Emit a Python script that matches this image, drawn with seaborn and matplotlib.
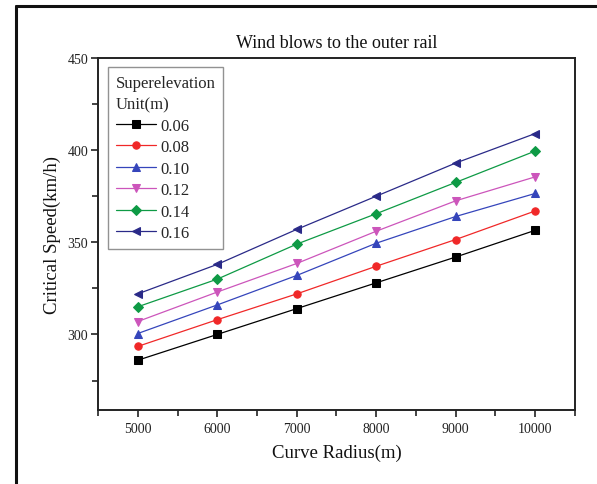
import matplotlib
matplotlib.use("Agg")
import matplotlib.pyplot as plt
from matplotlib.lines import Line2D
from matplotlib.ticker import MultipleLocator
import seaborn as sns
import pandas as pd

# Curve radius (m)
radius = [5000, 6000, 7000, 8000, 9000, 10000]

# Critical speed (km/h) for each superelevation unit
speed_006 = [286, 300, 314, 328, 342, 356.5]
speed_008 = [293.5, 308, 322, 337, 351.5, 367]
speed_010 = [300.5, 316, 332, 349.5, 364, 376.5]
speed_012 = [307, 323, 338.5, 356, 372.5, 385.5]
speed_014 = [315, 330, 349, 365.5, 382.5, 399.5]
speed_016 = [322, 338, 357, 375, 393, 409]

labels = ["0.06", "0.08", "0.10", "0.12", "0.14", "0.16"]
series = [speed_006, speed_008, speed_010, speed_012, speed_014, speed_016]
colors = ["#000000", "#F02828", "#3545BB", "#CC55BB", "#0E9A45", "#2A2A88"]
markers = ["s", "o", "^", "v", "D", "<"]

sns.set_theme(style="ticks")
plt.rcParams["font.family"] = ["Liberation Serif", "DejaVu Serif"]

fig = plt.figure(figsize=(5.97, 4.85), dpi=100)
ax = fig.add_axes([0.1642, 0.1526, 0.7989, 0.7258])

for lab, vals, col, mk in zip(labels, series, colors, markers):
    df = pd.DataFrame({"radius": radius, "speed": vals})
    sns.lineplot(data=df, x="radius", y="speed", ax=ax, color=col,
                 marker=mk, markersize=5.3 if mk != "D" else 4.8,
                 markeredgecolor=col, markerfacecolor=col,
                 linewidth=0.9, label=lab)

ax.set_xlim(4500, 10500)
ax.set_ylim(259, 450)
ax.xaxis.set_major_locator(MultipleLocator(1000))
ax.xaxis.set_minor_locator(MultipleLocator(500))
ax.yaxis.set_major_locator(MultipleLocator(50))
ax.yaxis.set_minor_locator(MultipleLocator(25))
ax.tick_params(axis="both", which="both", direction="out", top=False, right=False,
               colors="#222222", width=1.2)
ax.tick_params(axis="both", which="major", length=5, labelsize=10)
ax.tick_params(axis="x", which="major", pad=4)
ax.tick_params(axis="y", which="major", pad=2)
ax.tick_params(axis="both", which="minor", length=4)
for t in ax.get_xticklabels() + ax.get_yticklabels():
    t.set_color("#222222")
for sp in ax.spines.values():
    sp.set_visible(True)
    sp.set_linewidth(1.4)
    sp.set_color("#222222")

ax.set_xlabel("Curve Radius(m)", fontsize=13.5, labelpad=6, color="#111111")
ax.set_ylabel("Critical Speed(km/h)", fontsize=13.5, labelpad=5, color="#111111")
ax.set_title("Wind blows to the outer rail", fontsize=13, pad=8, color="#111111")

leg = ax.legend(title="Superelevation\nUnit(m)", loc="upper left",
                bbox_to_anchor=(0.021, 0.974), borderaxespad=0,
                fontsize=12, title_fontsize=12, alignment="left",
                frameon=True, fancybox=False, edgecolor="#777777",
                handlelength=2.4, handletextpad=0.3, labelspacing=0.33,
                borderpad=0.45)
leg.get_title().set_linespacing(1.45)
leg.get_frame().set_linewidth(1.0)

# outer frame lines along the top and left edges of the figure
fig.add_artist(Line2D([0.026, 0.026], [0.0, 0.985], transform=fig.transFigure,
                      color="#111111", linewidth=2.2))
fig.add_artist(Line2D([0.026, 1.0], [0.985, 0.985], transform=fig.transFigure,
                      color="#111111", linewidth=2.2))

fig.savefig("out.png", dpi=100)
